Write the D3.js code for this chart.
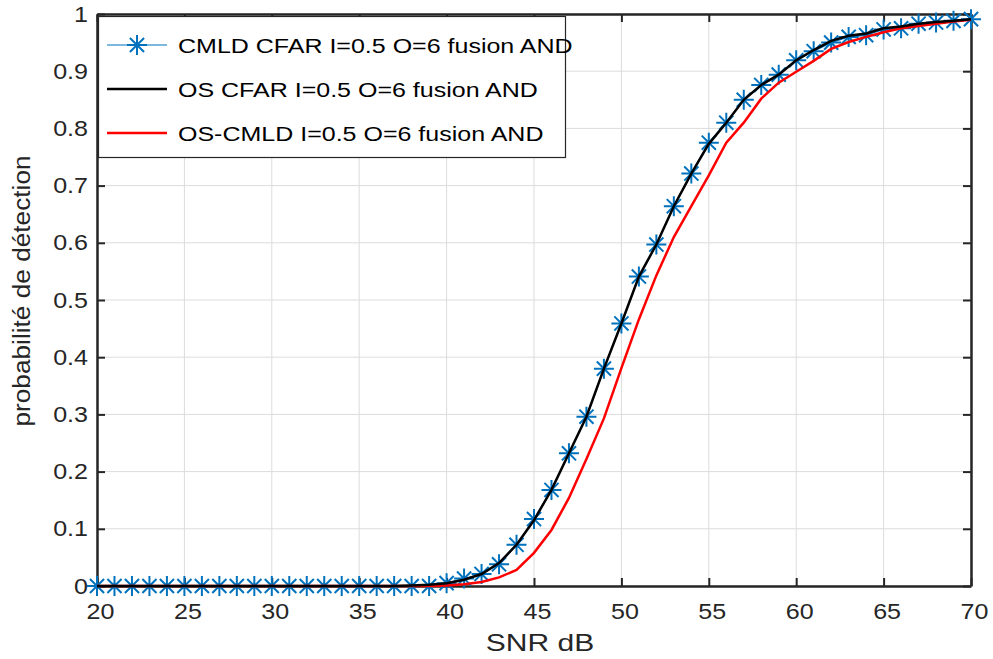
<!DOCTYPE html>
<html lang="fr">
<head>
  <meta charset="UTF-8">
  <title>Probabilité de détection - CMLD / OS CFAR</title>
  <script src="https://d3js.org/d3.v7.min.js"></script>
  <style>
    body { margin: 0; background: #fff; }
    svg { font-family: 'Liberation Sans', Arial, sans-serif; }
    .grid line { stroke: #dcdcdc; stroke-width: 1; }
    .tick text { fill: #262626; font-size: 22px; }
    .axis path, .axis line { stroke: #262626; }
  </style>
</head>
<body>
<div id="chart"></div>
<script>
  // SNR en dB, de 20 à 70 par pas de 1
  const snr = d3.range(20, 71);

  // CMLD CFAR (étoiles bleues)
  const cmld = [
    0, 0, 0, 0, 0, 0, 0, 0, 0, 0,
    0, 0, 0, 0, 0, 0, 0, 0, 0, 0,
    0.005, 0.013, 0.021, 0.038, 0.072, 0.117, 0.168, 0.232, 0.296, 0.380,
    0.459, 0.541, 0.597, 0.664, 0.721, 0.775, 0.810, 0.850, 0.876, 0.894,
    0.919, 0.935, 0.950, 0.960, 0.963, 0.973, 0.975, 0.983, 0.985, 0.988,
    0.991
  ];

  // OS CFAR (noir)
  const osCfar = [
    0, 0, 0, 0, 0, 0, 0, 0, 0, 0,
    0, 0, 0, 0, 0, 0, 0, 0, 0.001, 0.002,
    0.005, 0.011, 0.021, 0.040, 0.072, 0.115, 0.168, 0.232, 0.296, 0.380,
    0.459, 0.541, 0.597, 0.664, 0.721, 0.773, 0.810, 0.850, 0.876, 0.894,
    0.919, 0.937, 0.953, 0.962, 0.966, 0.975, 0.978, 0.983, 0.986, 0.988,
    0.991
  ];

  // OS-CMLD (rouge)
  const osCmld = [
    0, 0, 0, 0, 0, 0, 0, 0, 0, 0,
    0, 0, 0, 0, 0, 0, 0, 0, 0, 0,
    0.001, 0.003, 0.007, 0.015, 0.028, 0.058, 0.098, 0.154, 0.222, 0.293,
    0.381, 0.466, 0.543, 0.610, 0.664, 0.718, 0.775, 0.810, 0.852, 0.880,
    0.899, 0.918, 0.939, 0.951, 0.960, 0.968, 0.975, 0.979, 0.983, 0.987,
    0.990
  ];

  const xTicks = [20, 25, 30, 35, 40, 45, 50, 55, 60, 65, 70];
  const yTicks = d3.range(0, 11).map(d => d / 10);

  const legendLabels = [
    "CMLD CFAR I=0.5 O=6 fusion AND",
    "OS CFAR I=0.5 O=6 fusion AND",
    "OS-CMLD I=0.5 O=6 fusion AND"
  ];

  const W = 993, H = 659;
  const margin = { top: 14, right: 22, bottom: 73, left: 97 };

  const svg = d3.select("#chart").append("svg")
    .attr("width", W)
    .attr("height", H);

  const x = d3.scaleLinear().domain([20, 70]).range([margin.left, W - margin.right]);
  const y = d3.scaleLinear().domain([0, 1]).range([H - margin.bottom, margin.top]);

  // la police de la figure d'origine est plus large : on étire le texte
  const stretch = (sel, k) => sel.each(function () {
    const n = this.getComputedTextLength();
    if (n > 0) d3.select(this).attr("textLength", n * k).attr("lengthAdjust", "spacingAndGlyphs");
  });

  // grille
  const grid = svg.append("g").attr("class", "grid");
  grid.selectAll("line.v").data(xTicks).join("line")
    .attr("class", "v")
    .attr("x1", d => x(d)).attr("x2", d => x(d))
    .attr("y1", y(0)).attr("y2", y(1));
  grid.selectAll("line.h").data(yTicks).join("line")
    .attr("class", "h")
    .attr("x1", x(20)).attr("x2", x(70))
    .attr("y1", d => y(d)).attr("y2", d => y(d));

  // axes (ticks vers l'intérieur, style MATLAB)
  const fmt = d => d === 0 ? "0" : d === 1 ? "1" : d3.format(".1f")(d);

  const xAxis = svg.append("g").attr("class", "axis")
    .attr("transform", `translate(0,${y(0)})`)
    .call(d3.axisBottom(x).tickValues(xTicks).tickSizeInner(-8).tickSizeOuter(0).tickPadding(17))
    .call(g => g.select(".domain").attr("stroke-width", 2.5));
  xAxis.selectAll(".tick text").attr("dx", 3).call(stretch, 1.14);

  svg.append("g").attr("class", "axis")
    .attr("transform", `translate(0,${y(1)})`)
    .call(d3.axisTop(x).tickValues(xTicks).tickSizeInner(-8).tickSizeOuter(0).tickFormat(""))
    .call(g => g.select(".domain").attr("stroke-width", 2.5));

  const yAxis = svg.append("g").attr("class", "axis")
    .attr("transform", `translate(${x(20)},0)`)
    .call(d3.axisLeft(y).tickValues(yTicks).tickSizeInner(-8).tickSizeOuter(0).tickPadding(9).tickFormat(fmt))
    .call(g => g.select(".domain").attr("stroke-width", 2.5));
  yAxis.selectAll(".tick text").call(stretch, 1.14);

  svg.append("g").attr("class", "axis")
    .attr("transform", `translate(${x(70)},0)`)
    .call(d3.axisRight(y).tickValues(yTicks).tickSizeInner(-8).tickSizeOuter(0).tickFormat(""))
    .call(g => g.select(".domain").attr("stroke-width", 2.5));

  svg.selectAll(".axis .tick line").attr("stroke-width", 2);

  // titres d'axes
  svg.append("text")
    .attr("x", 540)
    .attr("y", 651)
    .attr("text-anchor", "middle")
    .attr("font-size", 24)
    .attr("fill", "#262626")
    .text("SNR dB")
    .call(stretch, 1.25);

  svg.append("text")
    .attr("transform", `translate(30,291) rotate(-90)`)
    .attr("text-anchor", "middle")
    .attr("font-size", 23)
    .attr("fill", "#262626")
    .text("probabilité de détection")
    .call(stretch, 1.14);

  // courbes
  const line = d3.line().x(d => x(d[0])).y(d => y(d[1]));
  const plot = svg.append("g");

  const star = (g, cx, cy, r) => {
    const path = d3.path();
    [0, 45, 90, 135].forEach(a => {
      const t = a * Math.PI / 180;
      path.moveTo(cx - r * Math.cos(t), cy - r * Math.sin(t));
      path.lineTo(cx + r * Math.cos(t), cy + r * Math.sin(t));
    });
    g.append("path").attr("d", path.toString())
      .attr("stroke", "#0072BD").attr("stroke-width", 2).attr("fill", "none");
  };

  plot.append("path")
    .datum(d3.zip(snr, cmld))
    .attr("d", line)
    .attr("fill", "none").attr("stroke", "#0072BD").attr("stroke-width", 1.2);

  const stars = plot.append("g");
  d3.zip(snr, cmld).forEach(d => star(stars, x(d[0]), y(d[1]), 10));

  plot.append("path")
    .datum(d3.zip(snr, osCmld))
    .attr("d", line)
    .attr("fill", "none").attr("stroke", "#ff0000").attr("stroke-width", 2.5);

  plot.append("path")
    .datum(d3.zip(snr, osCfar))
    .attr("d", line)
    .attr("fill", "none").attr("stroke", "#000").attr("stroke-width", 2.5);

  // légende
  const lg = svg.append("g");
  lg.append("rect")
    .attr("x", 98.5).attr("y", 16.5)
    .attr("width", 467).attr("height", 141)
    .attr("fill", "#fff").attr("stroke", "#262626").attr("stroke-width", 1.2);

  const legendColors = ["#0072BD", "#000", "#ff0000"];
  const legendY = [45, 89, 133];
  legendLabels.forEach((t, i) => {
    lg.append("line")
      .attr("x1", 107).attr("x2", 167)
      .attr("y1", legendY[i]).attr("y2", legendY[i])
      .attr("stroke", legendColors[i])
      .attr("stroke-width", i === 0 ? 1.2 : 2.5);
    if (i === 0) star(lg, 137, legendY[i], 10);
    lg.append("text")
      .attr("x", 178).attr("y", legendY[i] + 7.5)
      .attr("font-size", 20)
      .attr("fill", "#000")
      .text(t)
      .call(stretch, 1.25);
  });
</script>
</body>
</html>
